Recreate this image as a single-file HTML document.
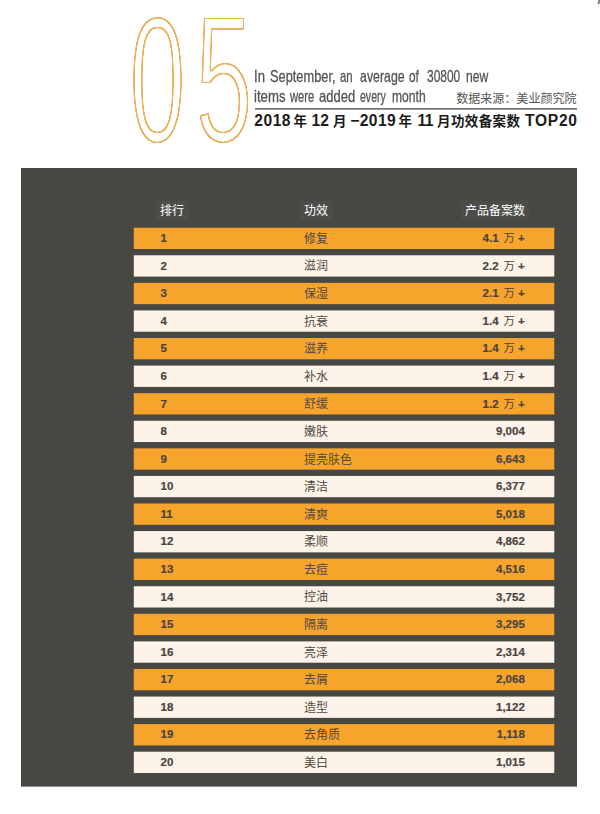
<!DOCTYPE html>
<html lang="zh"><head><meta charset="utf-8"><title>TOP20</title>
<style>
html,body{margin:0;padding:0;background:#fff;}
body{width:600px;height:814px;position:relative;overflow:hidden;font-family:"Liberation Sans","Noto Sans CJK SC",sans-serif;}
.abs{position:absolute;white-space:nowrap;}
.rk,.nm,.vl{position:absolute;height:20px;line-height:20px;color:#4a4540;white-space:nowrap;}
.rk{left:160.6px;font-weight:bold;font-size:11.5px;-webkit-text-stroke:0.2px #4a4540;}
.nm{left:304px;font-size:12px;color:#4f4a44;}
.vl{right:75.2px;font-weight:bold;font-size:11.5px;text-align:right;-webkit-text-stroke:0.2px #4a4540;}
.vl span{font-weight:normal;font-size:11.3px;-webkit-text-stroke:0;margin-left:1.8px;}
.hd{color:#fff;font-size:12px;line-height:14px;top:204px;}
.enl{left:0;color:#555;-webkit-text-stroke:0.3px #555;font-size:16.5px;line-height:20px;height:20px;width:600px;}
.enl span{position:absolute;top:0;transform-origin:0 0;white-space:pre;}
.src{color:#555;font-size:12.06px;line-height:14px;right:23.4px;top:91.8px;}
.ttl{left:0;top:0;font-weight:bold;line-height:18px;color:#1c1c1c;}
.ttl span{position:absolute;top:0;white-space:pre;}
.ttl .l{font-size:15.6px;top:112.4px;}
.ttl .z{font-size:13.5px;top:112.9px;}
</style></head><body>
<svg class="abs" style="left:120px;top:0" width="150" height="160" viewBox="0 0 150 160">
<defs><filter id="ol" x="-5%" y="-5%" width="110%" height="110%" color-interpolation-filters="sRGB">
<feMorphology in="SourceAlpha" operator="erode" radius="0 1" result="s"/>
<feMorphology in="s" operator="erode" radius="1" result="e"/>
<feComposite in="s" in2="e" operator="out" result="r1"/>
<feGaussianBlur in="r1" stdDeviation="0.45" result="rb"/>
<feComponentTransfer in="rb" result="ring"><feFuncA type="linear" slope="1.9"/></feComponentTransfer>
<feFlood flood-color="#ebb05a" result="c"/>
<feComposite in="c" in2="ring" operator="in"/>
</filter></defs>
<g filter="url(#ol)" fill="#000" font-family="Liberation Sans, sans-serif">
<text x="0" y="0" font-size="180.6" transform="translate(9.5,142.4) scale(0.557,1)">0</text>
<text x="0" y="0" font-size="181.2" transform="translate(75.6,142.4) scale(0.565,1)">5</text>
</g></svg>
<div class="abs" style="left:597.5px;top:0;width:2px;height:3.6px;background:#777;transform:skewX(-15deg)"></div>
<svg class="abs" style="left:0;top:0" width="600" height="814" viewBox="0 0 600 814"><rect x="255" y="108.05" width="322" height="1.65" fill="#6e6e6e"/><rect x="21" y="168" width="556" height="618.6" fill="#474744"/><rect x="156" y="201" width="33" height="20" fill="#4c4c49"/><rect x="300" y="201" width="33" height="20" fill="#4c4c49"/><rect x="461" y="201" width="68" height="20" fill="#4c4c49"/><rect x="133.8" y="227.70" width="420.5" height="21.3" fill="#f7a42d"/><rect x="133.8" y="255.28" width="420.5" height="21.3" fill="#fdf3e9"/><rect x="133.8" y="282.86" width="420.5" height="21.3" fill="#f7a42d"/><rect x="133.8" y="310.44" width="420.5" height="21.3" fill="#fdf3e9"/><rect x="133.8" y="338.02" width="420.5" height="21.3" fill="#f7a42d"/><rect x="133.8" y="365.60" width="420.5" height="21.3" fill="#fdf3e9"/><rect x="133.8" y="393.18" width="420.5" height="21.3" fill="#f7a42d"/><rect x="133.8" y="420.76" width="420.5" height="21.3" fill="#fdf3e9"/><rect x="133.8" y="448.34" width="420.5" height="21.3" fill="#f7a42d"/><rect x="133.8" y="475.92" width="420.5" height="21.3" fill="#fdf3e9"/><rect x="133.8" y="503.50" width="420.5" height="21.3" fill="#f7a42d"/><rect x="133.8" y="531.08" width="420.5" height="21.3" fill="#fdf3e9"/><rect x="133.8" y="558.66" width="420.5" height="21.3" fill="#f7a42d"/><rect x="133.8" y="586.24" width="420.5" height="21.3" fill="#fdf3e9"/><rect x="133.8" y="613.82" width="420.5" height="21.3" fill="#f7a42d"/><rect x="133.8" y="641.40" width="420.5" height="21.3" fill="#fdf3e9"/><rect x="133.8" y="668.98" width="420.5" height="21.3" fill="#f7a42d"/><rect x="133.8" y="696.56" width="420.5" height="21.3" fill="#fdf3e9"/><rect x="133.8" y="724.14" width="420.5" height="21.3" fill="#f7a42d"/><rect x="133.8" y="751.72" width="420.5" height="21.3" fill="#fdf3e9"/></svg>
<div class="abs enl" style="top:65.6px"><span style="left:253.81px;transform:scaleX(0.7945)">In</span> <span style="left:269.98px;transform:scaleX(0.7764)">September,</span> <span style="left:340.19px;transform:scaleX(0.6894)">an</span> <span style="left:360.15px;transform:scaleX(0.7492)">average</span> <span style="left:409.43px;transform:scaleX(0.7183)">of</span> <span style="left:426.87px;transform:scaleX(0.7246)">30800</span> <span style="left:466.06px;transform:scaleX(0.7368)">new</span></div>
<div class="abs enl" style="top:85.6px"><span style="left:254.03px;transform:scaleX(0.7984)">items</span> <span style="left:290.42px;transform:scaleX(0.6789)">were</span> <span style="left:319.32px;transform:scaleX(0.7875)">added</span> <span style="left:360.26px;transform:scaleX(0.6395)">every</span> <span style="left:391.87px;transform:scaleX(0.733)">month</span></div>
<div class="abs src">数据来源：美业颜究院</div>
<div class="abs ttl"><span class="l" style="left:254.24px;letter-spacing:0.540px">2018 </span><span class="z" style="left:293.48px;letter-spacing:0.000px">年 </span><span class="l" style="left:311.61px;letter-spacing:-0.100px">12 </span><span class="z" style="left:333.01px;letter-spacing:0.000px">月 </span><span class="l" style="left:350.21px;letter-spacing:0.412px">−2019 </span><span class="z" style="left:398.48px;letter-spacing:0.000px">年 </span><span class="l" style="left:417.4px;letter-spacing:-0.400px">11 </span><span class="z" style="left:437.01px;letter-spacing:0.378px">月功效备案数 </span><span class="l" style="left:525.04px;letter-spacing:0.722px">TOP20</span></div>
<div class="abs hd" style="left:160px">排行</div>
<div class="abs hd" style="left:304px">功效</div>
<div class="abs hd" style="left:465px">产品备案数</div>
<div class="abs rk" style="top:228px">1</div><div class="abs nm" style="top:229px">修复</div><div class="abs vl" style="top:228px">4.1 <span>万</span> +</div>
<div class="abs rk" style="top:256px">2</div><div class="abs nm" style="top:256px">滋润</div><div class="abs vl" style="top:256px">2.2 <span>万</span> +</div>
<div class="abs rk" style="top:283px">3</div><div class="abs nm" style="top:284px">保湿</div><div class="abs vl" style="top:283px">2.1 <span>万</span> +</div>
<div class="abs rk" style="top:311px">4</div><div class="abs nm" style="top:312px">抗衰</div><div class="abs vl" style="top:311px">1.4 <span>万</span> +</div>
<div class="abs rk" style="top:338px">5</div><div class="abs nm" style="top:339px">滋养</div><div class="abs vl" style="top:338px">1.4 <span>万</span> +</div>
<div class="abs rk" style="top:366px">6</div><div class="abs nm" style="top:367px">补水</div><div class="abs vl" style="top:366px">1.4 <span>万</span> +</div>
<div class="abs rk" style="top:394px">7</div><div class="abs nm" style="top:394px">舒缓</div><div class="abs vl" style="top:394px">1.2 <span>万</span> +</div>
<div class="abs rk" style="top:421px">8</div><div class="abs nm" style="top:422px">嫩肤</div><div class="abs vl" style="top:421px">9,004</div>
<div class="abs rk" style="top:449px">9</div><div class="abs nm" style="top:450px">提亮肤色</div><div class="abs vl" style="top:449px">6,643</div>
<div class="abs rk" style="top:476px">10</div><div class="abs nm" style="top:477px">清洁</div><div class="abs vl" style="top:476px">6,377</div>
<div class="abs rk" style="top:504px">11</div><div class="abs nm" style="top:505px">清爽</div><div class="abs vl" style="top:504px">5,018</div>
<div class="abs rk" style="top:531px">12</div><div class="abs nm" style="top:532px">柔顺</div><div class="abs vl" style="top:531px">4,862</div>
<div class="abs rk" style="top:559px">13</div><div class="abs nm" style="top:560px">去痘</div><div class="abs vl" style="top:559px">4,516</div>
<div class="abs rk" style="top:587px">14</div><div class="abs nm" style="top:587px">控油</div><div class="abs vl" style="top:587px">3,752</div>
<div class="abs rk" style="top:614px">15</div><div class="abs nm" style="top:615px">隔离</div><div class="abs vl" style="top:614px">3,295</div>
<div class="abs rk" style="top:642px">16</div><div class="abs nm" style="top:643px">亮泽</div><div class="abs vl" style="top:642px">2,314</div>
<div class="abs rk" style="top:669px">17</div><div class="abs nm" style="top:670px">去屑</div><div class="abs vl" style="top:669px">2,068</div>
<div class="abs rk" style="top:697px">18</div><div class="abs nm" style="top:698px">造型</div><div class="abs vl" style="top:697px">1,122</div>
<div class="abs rk" style="top:724px">19</div><div class="abs nm" style="top:725px">去角质</div><div class="abs vl" style="top:724px">1,118</div>
<div class="abs rk" style="top:752px">20</div><div class="abs nm" style="top:753px">美白</div><div class="abs vl" style="top:752px">1,015</div>
</body></html>
